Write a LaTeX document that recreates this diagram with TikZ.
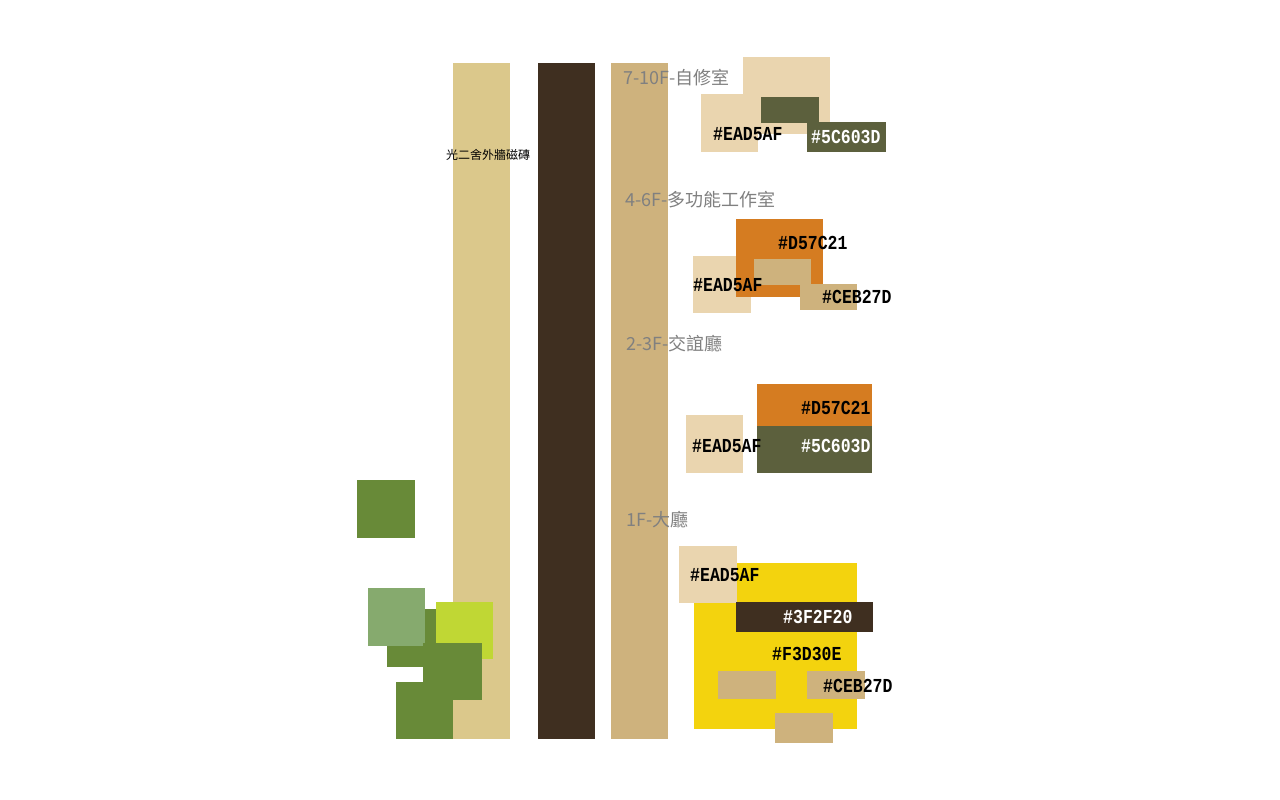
\documentclass[tikz,border=0pt]{standalone}
\usepackage{fontspec}
\newfontfamily\cjkfont{Noto Sans CJK TC}
\newfontfamily\hexfont{Liberation Mono}
\definecolor{barA}{HTML}{DBC88B}
\definecolor{darkbrown}{HTML}{3F2F20}
\definecolor{tan}{HTML}{CEB27D}
\definecolor{lighttan}{HTML}{EAD5AF}
\definecolor{olive}{HTML}{5C603D}
\definecolor{orange}{HTML}{D57C21}
\definecolor{yellowc}{HTML}{F3D30E}
\definecolor{greenc}{HTML}{688A38}
\definecolor{lightgreen}{HTML}{86AA6E}
\definecolor{lime}{HTML}{C0D734}
\definecolor{graytext}{HTML}{808080}
\newcommand{\hx}[1]{\scalebox{1}[1.2]{#1}}
\tikzset{
  hexlbl/.style={font=\hexfont\bfseries\fontsize{16.5}{18}\selectfont, text=black, inner sep=0pt, anchor=west},
  hexwhite/.style={hexlbl, text=white},
  floorlbl/.style={font=\cjkfont\fontsize{18}{20}\selectfont, text=graytext, inner sep=0pt, anchor=west},
  smalllbl/.style={font=\cjkfont\fontsize{12}{13}\selectfont, text=black, inner sep=0pt}
}
\begin{document}
\begin{tikzpicture}[x=1pt,y=-1pt]
\useasboundingbox (0,0) rectangle (1280,800);
\fill[white] (0,0) rectangle (1280,800);
% bars
\fill[barA] (453,63) rectangle (510,739);
\fill[darkbrown] (538,63) rectangle (595,739);
\fill[tan] (611,63) rectangle (668,739);
\node[smalllbl] (wall) at (488,155) {光二舍外牆磁磚};
% green cluster
\fill[greenc] (357,480) rectangle (415,538);
\fill[greenc] (387,609) rectangle (443,667);
\fill[lightgreen] (368,588) rectangle (425,646);
\fill[lime] (436,602) rectangle (493,659);
\fill[greenc] (423,643) rectangle (482,700);
\fill[greenc] (396,682) rectangle (453,739);
% group 1: 7-10F
\node[floorlbl] (f7) at (623,78) {7-10F-自修室};
\fill[lighttan] (743,57) rectangle (830,134);
\fill[lighttan] (701,94) rectangle (758,152);
\fill[olive] (761,97) rectangle (819,123);
\fill[olive] (807,122) rectangle (886,152);
\node[hexlbl] (g1a) at (713,134) {\hx{\#EAD5AF}};
\node[hexwhite] (g1b) at (811,137) {\hx{\#5C603D}};
% group 2: 4-6F
\node[floorlbl] (f4) at (625,200) {4-6F-多功能工作室};
\fill[lighttan] (693,256) rectangle (751,313);
\fill[orange] (736,219) rectangle (823,297);
\fill[tan] (754,259) rectangle (811,285);
\fill[tan] (800,284) rectangle (857,310);
\node[hexlbl] (g2a) at (778,243) {\hx{\#D57C21}};
\node[hexlbl] (g2b) at (693,285) {\hx{\#EAD5AF}};
\node[hexlbl] (g2c) at (822,297) {\hx{\#CEB27D}};
% group 3: 2-3F
\node[floorlbl] (f2) at (626,344) {2-3F-交誼廳};
\fill[lighttan] (686,415) rectangle (743,473);
\fill[orange] (757,384) rectangle (872,426);
\fill[olive] (757,426) rectangle (872,473);
\node[hexlbl] (g3a) at (801,408) {\hx{\#D57C21}};
\node[hexlbl] (g3b) at (692,446) {\hx{\#EAD5AF}};
\node[hexwhite] (g3c) at (801,446) {\hx{\#5C603D}};
% group 4: 1F
\node[floorlbl] (f1) at (626,520) {1F-大廳};
\fill[yellowc] (694,563) rectangle (857,729);
\fill[lighttan] (679,546) rectangle (737,603);
\fill[darkbrown] (736,602) rectangle (873,632);
\fill[tan] (718,671) rectangle (776,699);
\fill[tan] (807,671) rectangle (865,699);
\fill[tan] (775,713) rectangle (833,743);
\node[hexlbl] (g4a) at (690,575) {\hx{\#EAD5AF}};
\node[hexwhite] (g4b) at (783,617) {\hx{\#3F2F20}};
\node[hexlbl] (g4c) at (772,654) {\hx{\#F3D30E}};
\node[hexlbl] (g4d) at (823,686) {\hx{\#CEB27D}};
\end{tikzpicture}
\end{document}
